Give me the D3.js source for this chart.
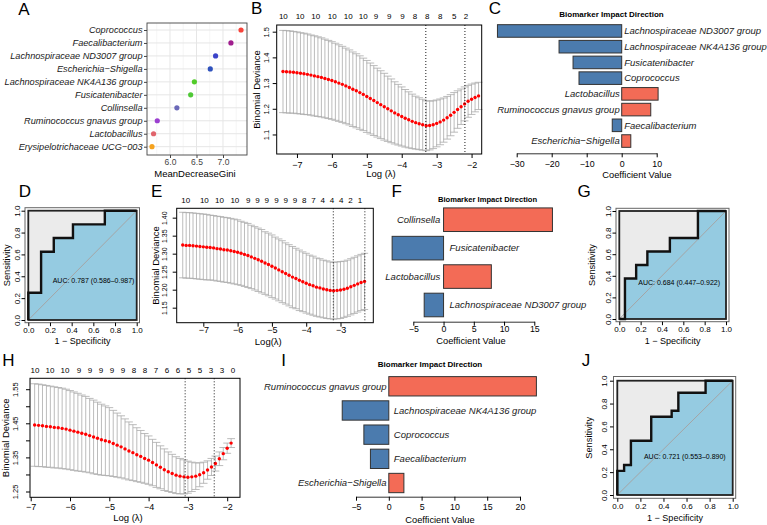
<!DOCTYPE html>
<html>
<head>
<meta charset="utf-8">
<script src="https://cdn.jsdelivr.net/npm/d3@7"></script>
<style>
body { margin: 0; background: #fff; }
svg { font-family: "Liberation Sans", Arial, Helvetica, sans-serif; }
</style>
</head>
<body>
<svg id="fig" width="767" height="525"></svg>
<script>
// ---- A: random forest importance ----
var giniGenera = ["Coprococcus", "Faecalibacterium", "Lachnospiraceae ND3007 group", "Escherichia\u2212Shigella",
    "Lachnospiraceae NK4A136 group", "Fusicatenibacter", "Collinsella", "Ruminococcus gnavus group",
    "Lactobacillus", "Erysipelotrichaceae UCG\u2212003"];
var giniValues = [7.34, 7.15, 6.86, 6.76, 6.46, 6.39, 6.13, 5.76, 5.69, 5.66];
var giniColors = ["#f8433a", "#a01e8e", "#3b43c9", "#2f52bd", "#52cc2a", "#4fc836", "#6b69b8", "#9b3fd0", "#e0646c", "#f5a21e"];
var giniTicks = [6.0, 6.5, 7.0];

// ---- B: lasso cv, model 1 ----
var cvB_logLambda = [-7.4, -7.3, -7.2, -7.1, -7.0, -6.9, -6.8, -6.7, -6.6, -6.5, -6.4, -6.3, -6.2, -6.1, -6.0, -5.9, -5.8, -5.7, -5.6, -5.5,
    -5.4, -5.3, -5.2, -5.1, -5.0, -4.9, -4.8, -4.7, -4.6, -4.5, -4.4, -4.3, -4.2, -4.1, -4.0, -3.9, -3.8, -3.7, -3.6, -3.5,
    -3.4, -3.3, -3.2, -3.1, -3.0, -2.9, -2.8, -2.7, -2.6, -2.5, -2.4, -2.3, -2.2, -2.1, -2.0, -1.9, -1.8];
var cvB_cvm = [1.345, 1.344, 1.343, 1.342, 1.340, 1.338, 1.336, 1.334, 1.331, 1.328, 1.325, 1.322, 1.318, 1.314, 1.310, 1.305, 1.300, 1.295, 1.289, 1.283,
    1.276, 1.270, 1.263, 1.256, 1.248, 1.240, 1.232, 1.224, 1.216, 1.208, 1.200, 1.192, 1.184, 1.177, 1.170, 1.163, 1.157, 1.151, 1.146, 1.142,
    1.138, 1.134, 1.135, 1.138, 1.143, 1.149, 1.156, 1.165, 1.175, 1.186, 1.197, 1.208, 1.219, 1.229, 1.237, 1.244, 1.250];
var cvB_cvsd = [.160, .160, .160, .159, .159, .158, .158, .157, .156, .156, .155, .154, .153, .152, .151, .150, .149, .148, .147, .146,
    .145, .144, .143, .141, .140, .138, .136, .134, .132, .130, .127, .124, .121, .118, .115, .112, .109, .106, .103, .101,
    .099, .097, .095, .093, .091, .089, .086, .083, .080, .077, .073, .069, .066, .062, .059, .056, .053];
var cvB_topAt = [-7.39, -6.91, -6.46, -5.99, -5.53, -5.10, -4.74, -4.36, -3.98, -3.62, -3.27, -2.90, -2.50, -2.16];
var cvB_topNz = ["10", "10", "10", "10", "10", "10", "9", "9", "9", "8", "8", "8", "5", "2"];
var cvB_lambdaLines = [-3.31, -2.19];

// ---- E: lasso cv, model 2 ----
var cvE_logLambda = [-7.6, -7.5, -7.4, -7.3, -7.2, -7.1, -7.0, -6.9, -6.8, -6.7, -6.6, -6.5, -6.4, -6.3, -6.2, -6.1, -6.0, -5.9, -5.8, -5.7,
    -5.6, -5.5, -5.4, -5.3, -5.2, -5.1, -5.0, -4.9, -4.8, -4.7, -4.6, -4.5, -4.4, -4.3, -4.2, -4.1, -4.0, -3.9, -3.8, -3.7,
    -3.6, -3.5, -3.4, -3.3, -3.2, -3.1, -3.0, -2.9, -2.8, -2.7, -2.6, -2.5, -2.4, -2.3];
var cvE_cvm = [1.324, 1.323, 1.323, 1.322, 1.321, 1.320, 1.319, 1.318, 1.317, 1.316, 1.314, 1.313, 1.311, 1.310, 1.308, 1.306, 1.304, 1.301, 1.298, 1.295,
    1.291, 1.287, 1.283, 1.279, 1.274, 1.270, 1.265, 1.260, 1.255, 1.250, 1.245, 1.240, 1.235, 1.231, 1.226, 1.222, 1.218, 1.214, 1.211, 1.207,
    1.205, 1.202, 1.200, 1.198, 1.197, 1.198, 1.199, 1.201, 1.204, 1.208, 1.212, 1.216, 1.220, 1.223];
var cvE_cvsd = [.091, .091, .091, .091, .091, .091, .091, .091, .090, .090, .090, .090, .090, .090, .090, .090, .090, .089, .089, .089,
    .088, .088, .088, .088, .087, .087, .087, .086, .086, .086, .085, .085, .085, .084, .084, .083, .083, .082, .082, .081,
    .081, .080, .080, .079, .079, .079, .079, .078, .078, .078, .078, .078, .078, .078];
var cvE_topAt = [-7.51, -6.97, -6.53, -6.08, -5.69, -5.42, -5.15, -4.87, -4.60, -4.33, -4.06, -3.79, -3.52, -3.25, -2.98, -2.71, -2.43];
var cvE_topNz = ["10", "10", "10", "10", "9", "9", "9", "9", "9", "9", "8", "7", "4", "4", "4", "2", "1"];
var cvE_lambdaLines = [-3.21, -2.29];

// ---- H: lasso cv, model 3 ----
var cvH_logLambda = [-6.9, -6.8, -6.7, -6.6, -6.5, -6.4, -6.3, -6.2, -6.1, -6.0, -5.9, -5.8, -5.7, -5.6, -5.5, -5.4, -5.3, -5.2, -5.1, -5.0,
    -4.9, -4.8, -4.7, -4.6, -4.5, -4.4, -4.3, -4.2, -4.1, -4.0, -3.9, -3.8, -3.7, -3.6, -3.5, -3.4, -3.3, -3.2, -3.1, -3.0,
    -2.9, -2.8, -2.7, -2.6, -2.5, -2.4, -2.3, -2.2, -2.1, -2.0, -1.9];
var cvH_cvm = [1.445, 1.444, 1.443, 1.441, 1.440, 1.438, 1.437, 1.435, 1.433, 1.430, 1.427, 1.424, 1.421, 1.418, 1.414, 1.410, 1.406, 1.402, 1.399, 1.396,
    1.391, 1.386, 1.381, 1.375, 1.369, 1.364, 1.358, 1.353, 1.347, 1.342, 1.335, 1.328, 1.321, 1.314, 1.308, 1.303, 1.298, 1.295, 1.293, 1.292,
    1.293, 1.295, 1.299, 1.305, 1.313, 1.322, 1.332, 1.346, 1.361, 1.377, 1.392];
var cvH_cvsd = [.121, .121, .120, .120, .119, .119, .118, .118, .117, .116, .115, .114, .112, .111, .109, .108, .106, .104, .102, .100,
    .097, .094, .091, .088, .085, .082, .079, .076, .073, .071, .068, .066, .063, .061, .058, .056, .054, .052, .050, .047,
    .043, .039, .035, .031, .027, .025, .022, .020, .018, .015, .013];
var cvH_topAt = [-6.89, -6.51, -6.13, -5.77, -5.49, -5.21, -4.93, -4.65, -4.37, -4.09, -3.81, -3.53, -3.25, -2.97, -2.69, -2.41, -2.13, -1.85];
var cvH_topNz = ["10", "10", "10", "9", "9", "9", "9", "9", "8", "8", "7", "6", "6", "5", "5", "3", "3", "0"];
var cvH_lambdaLines = [-3.07, -2.33];

// ---- C, F, I: coefficients ----
var coefC_names = ["Lachnospiraceae ND3007 group", "Lachnospiraceae NK4A136 group", "Fusicatenibacter", "Coprococcus",
    "Lactobacillus", "Ruminococcus gnavus group", "Faecalibacterium", "Escherichia\u2212Shigella"];
var coefC_values = [-35.5, -17.9, -13.9, -12.2, 10.4, 8.3, -2.7, 2.6];
var coefF_names = ["Collinsella", "Fusicatenibacter", "Lactobacillus", "Lachnospiraceae ND3007 group"];
var coefF_values = [18.0, -8.5, 7.9, -3.2];
var coefI_names = ["Ruminococcus gnavus group", "Lachnospiraceae NK4A136 group", "Coprococcus", "Faecalibacterium", "Escherichia\u2212Shigella"];
var coefI_values = [22.5, -7.1, -3.8, -2.8, 2.3];

// ---- D, G, J: ROC ----
var rocD_fpr = [0, 0, 0.118, 0.118, 0.235, 0.235, 0.412, 0.412, 0.706, 0.706, 1];
var rocD_tpr = [0, 0.25, 0.25, 0.625, 0.625, 0.75, 0.75, 0.875, 0.875, 1, 1];
var rocD_auc = "AUC: 0.787 (0.586\u20130.987)";
var rocG_fpr = [0, 0.053, 0.053, 0.158, 0.158, 0.263, 0.263, 0.474, 0.474, 0.737, 0.737, 1];
var rocG_tpr = [0, 0, 0.375, 0.375, 0.5, 0.5, 0.625, 0.625, 0.75, 0.75, 1, 1];
var rocG_auc = "AUC: 0.684 (0.447\u20130.922)";
var rocJ_fpr = [0, 0, 0.059, 0.059, 0.118, 0.118, 0.294, 0.294, 0.471, 0.471, 0.529, 0.529, 0.765, 0.765, 1];
var rocJ_tpr = [0, 0.211, 0.211, 0.263, 0.263, 0.474, 0.474, 0.684, 0.684, 0.737, 0.737, 0.895, 0.895, 1, 1];
var rocJ_auc = "AUC: 0.721 (0.553\u20130.890)";
var rocTicks = [0, 0.2, 0.4, 0.6, 0.8, 1.0];

var svg = d3.select("#fig");
svg.append("rect").attr("width", 767).attr("height", 525).attr("fill", "#fff");

function bottomAxis(g, scale, yPos, ticks, fmt, base, size, tickLen, keepDomain) {
    var ax = g.append("g").attr("transform", "translate(0," + yPos + ")")
        .call(d3.axisBottom(scale).tickValues(ticks).tickFormat(fmt).tickSize(tickLen).tickSizeOuter(0));
    if (!keepDomain) ax.select(".domain").remove();
    ax.attr("font-family", null).attr("font-size", size);
    ax.selectAll(".tick line").attr("stroke", "#000");
    ax.selectAll(".domain").attr("stroke", "#000");
    ax.selectAll("text").attr("y", base - yPos).attr("dy", null).attr("fill", "#000");
    return ax;
}

function leftAxisRot(g, scale, xPos, ticks, fmt, base, size, tickLen) {
    var ax = g.append("g").attr("transform", "translate(" + xPos + ",0)")
        .call(d3.axisLeft(scale).tickValues(ticks).tickFormat(fmt).tickSize(tickLen).tickSizeOuter(0));
    ax.select(".domain").remove();
    ax.attr("font-family", null).attr("font-size", size);
    ax.selectAll(".tick line").attr("stroke", "#000");
    ax.selectAll("text").attr("x", 0).attr("y", base - xPos).attr("dy", null)
        .attr("text-anchor", "middle").attr("transform", "rotate(-90)").attr("fill", "#000");
    return ax;
}

function rotTitle(g, text, xBase, yMid, size) {
    g.append("text").attr("transform", "translate(" + xBase + "," + yMid + ") rotate(-90)")
        .attr("text-anchor", "middle").attr("font-size", size).text(text);
}

function drawGini() {
    var L = 147, R = 247, T = 23, B = 155;
    var g = svg.append("g");
    var x = d3.scaleLinear().domain([5.566, 7.453]).range([L, R]);
    var y = d3.scalePoint().domain(giniGenera).range([30, 146.7]);

    g.selectAll(".vmin").data([5.75, 6.25, 6.75, 7.25]).enter().append("line").attr("class", "vmin")
        .attr("x1", x).attr("x2", x).attr("y1", T).attr("y2", B)
        .attr("stroke", "#f0f0f0").attr("stroke-width", 0.6);
    g.selectAll(".vmaj").data(giniTicks).enter().append("line").attr("class", "vmaj")
        .attr("x1", x).attr("x2", x).attr("y1", T).attr("y2", B)
        .attr("stroke", "#e6e6e6").attr("stroke-width", 1);
    g.selectAll(".hmaj").data(giniGenera).enter().append("line").attr("class", "hmaj")
        .attr("x1", L).attr("x2", R).attr("y1", y).attr("y2", y)
        .attr("stroke", "#e6e6e6").attr("stroke-width", 1);

    g.selectAll(".pt").data(giniGenera).enter().append("circle").attr("class", "pt")
        .attr("cx", function (d, i) { return x(giniValues[i]); })
        .attr("cy", y)
        .attr("r", 2.6)
        .attr("fill", function (d, i) { return giniColors[i]; });

    g.append("rect").attr("x", L).attr("y", T).attr("width", R - L).attr("height", B - T)
        .attr("fill", "none").attr("stroke", "#444").attr("stroke-width", 0.9);

    var ax = bottomAxis(g, x, B, giniTicks, d3.format(".1f"), 165, 8.5, 3, false);
    ax.selectAll("text").attr("fill", "#444");
    ax.selectAll(".tick line").attr("stroke", "#444");

    var ay = g.append("g").attr("transform", "translate(" + L + ",0)")
        .call(d3.axisLeft(y).tickSize(3).tickSizeOuter(0));
    ay.select(".domain").remove();
    ay.attr("font-family", null).attr("font-size", 9.2);
    ay.selectAll(".tick line").attr("stroke", "#444");
    ay.selectAll("text").attr("x", -4.5).attr("fill", "#1a1a1a").attr("font-style", "italic");

    g.append("text").attr("x", 195).attr("y", 176.5).attr("text-anchor", "middle")
        .attr("font-size", 9.5).text("MeanDecreaseGini");
}

function drawCV(p) {
    var g = svg.append("g");
    var x = d3.scaleLinear().domain(p.xDomain).range([p.left, p.right]);
    var y = d3.scaleLinear().domain(p.yDomain).range([p.bottom, p.top]);
    var pts = p.lam.map(function (l, i) { return { l: l, m: p.cvm[i], s: p.cvsd[i] }; });
    var barw = (d3.max(p.lam) - d3.min(p.lam)) * 0.02;

    var eb = g.append("g").attr("stroke", "#ababab").attr("stroke-width", 0.8);
    eb.selectAll(".v").data(pts).enter().append("line").attr("class", "v")
        .attr("x1", function (d) { return x(d.l); }).attr("x2", function (d) { return x(d.l); })
        .attr("y1", function (d) { return y(d.m + d.s); }).attr("y2", function (d) { return y(d.m - d.s); });
    eb.selectAll(".u").data(pts).enter().append("line").attr("class", "u")
        .attr("x1", function (d) { return x(d.l - barw); }).attr("x2", function (d) { return x(d.l + barw); })
        .attr("y1", function (d) { return y(d.m + d.s); }).attr("y2", function (d) { return y(d.m + d.s); });
    eb.selectAll(".w").data(pts).enter().append("line").attr("class", "w")
        .attr("x1", function (d) { return x(d.l - barw); }).attr("x2", function (d) { return x(d.l + barw); })
        .attr("y1", function (d) { return y(d.m - d.s); }).attr("y2", function (d) { return y(d.m - d.s); });

    g.selectAll(".pt").data(pts).enter().append("circle").attr("class", "pt")
        .attr("cx", function (d) { return x(d.l); })
        .attr("cy", function (d) { return y(d.m); })
        .attr("r", 1.7).attr("fill", "#ff0000");

    g.selectAll(".vl").data(p.vlines).enter().append("line").attr("class", "vl")
        .attr("x1", x).attr("x2", x).attr("y1", p.top).attr("y2", p.bottom)
        .attr("stroke", "#000").attr("stroke-width", 0.9).attr("stroke-dasharray", "1,2");

    g.append("rect").attr("x", p.left).attr("y", p.top).attr("width", p.right - p.left).attr("height", p.bottom - p.top)
        .attr("fill", "none").attr("stroke", "#000").attr("stroke-width", 1);

    bottomAxis(g, x, p.bottom, p.xTicks, d3.format("d"), p.xLabBase, 9, 4, false);
    leftAxisRot(g, y, p.left, p.yTicks, p.yFmt, p.yLabBase, p.ySize, 4);

    g.append("text").attr("x", p.xTitle[0]).attr("y", p.xTitle[1]).attr("text-anchor", "middle")
        .attr("font-size", 9.5).text(p.xTitleText);
    rotTitle(g, "Binomial Deviance", p.yTitleBase, (p.top + p.bottom) / 2, 9.5);

    g.selectAll(".top").data(p.topAt).enter().append("text").attr("class", "top")
        .attr("x", x).attr("y", p.topBase).attr("text-anchor", "middle").attr("font-size", 8)
        .text(function (d, i) { return p.topNz[i]; });
}

function drawCoef(p) {
    var g = svg.append("g");
    var x = d3.scaleLinear().domain(p.xDomain).range(p.xRange);
    var y = d3.scaleBand().domain(p.names).range(p.band).paddingInner(p.pad).paddingOuter(p.pad / 2);

    g.selectAll(".bar").data(p.names).enter().append("rect").attr("class", "bar")
        .attr("x", function (d, i) { return x(Math.min(0, p.values[i])); })
        .attr("width", function (d, i) { return Math.abs(x(p.values[i]) - x(0)); })
        .attr("y", y).attr("height", y.bandwidth())
        .attr("fill", function (d, i) { return p.values[i] < 0 ? "#4b7bae" : "#f36b56"; })
        .attr("stroke", "#333").attr("stroke-width", 1);

    g.selectAll(".lab").data(p.names).enter().append("text").attr("class", "lab")
        .attr("x", function (d, i) { return p.values[i] < 0 ? x(0) + p.gapNeg : x(0) - p.gapPos; })
        .attr("y", function (d) { return y(d) + y.bandwidth() / 2; })
        .attr("dy", "0.35em")
        .attr("text-anchor", function (d, i) { return p.values[i] < 0 ? "start" : "end"; })
        .attr("font-size", 9.5).attr("font-style", "italic").attr("fill", "#1a1a1a")
        .text(function (d) { return d; });

    var ax = bottomAxis(g, x, p.axisY, p.ticks, d3.format("d"), p.tickLabBase, 8.8, 4, true);
    ax.selectAll(".domain").attr("stroke", "#333").attr("stroke-width", 1);

    g.append("text").attr("x", p.title[0]).attr("y", p.title[1]).attr("text-anchor", "middle")
        .attr("font-size", p.titleSize).attr("font-weight", "bold").text("Biomarker Impact Direction");
    g.append("text").attr("x", p.xTitle[0]).attr("y", p.xTitle[1]).attr("text-anchor", "middle")
        .attr("font-size", 9.3).text("Coefficient Value");
}

function drawROC(p) {
    var g = svg.append("g");
    var x = d3.scaleLinear().domain([0, 1]).range([p.inner.l, p.inner.r]);
    var y = d3.scaleLinear().domain([0, 1]).range([p.inner.b, p.inner.t]);
    var pts = p.fpr.map(function (f, i) { return [f, p.tpr[i]]; });

    g.append("rect").attr("x", p.outer.l).attr("y", p.outer.t)
        .attr("width", p.outer.r - p.outer.l).attr("height", p.outer.b - p.outer.t)
        .attr("fill", "none").attr("stroke", "#666").attr("stroke-width", 1);
    g.append("rect").attr("x", x(0)).attr("y", y(1)).attr("width", x(1) - x(0)).attr("height", y(0) - y(1))
        .attr("fill", "#ebebeb");
    g.append("path").datum(pts)
        .attr("d", d3.area().x(function (d) { return x(d[0]); }).y0(y(0)).y1(function (d) { return y(d[1]); }))
        .attr("fill", "#95cbe1");
    g.append("line").attr("x1", x(0)).attr("y1", y(0)).attr("x2", x(1)).attr("y2", y(1))
        .attr("stroke", "#a5a5a5").attr("stroke-width", 1);
    g.append("rect").attr("x", x(0)).attr("y", y(1)).attr("width", x(1) - x(0)).attr("height", y(0) - y(1))
        .attr("fill", "none").attr("stroke", "#222").attr("stroke-width", 1.8);
    g.append("path").datum(pts)
        .attr("d", d3.line().x(function (d) { return x(d[0]); }).y(function (d) { return y(d[1]); }))
        .attr("fill", "none").attr("stroke", "#111").attr("stroke-width", 2.4);

    bottomAxis(g, x, p.outer.b, rocTicks, d3.format(".1f"), p.xLabBase, 8, 3.5, false);
    leftAxisRot(g, y, p.outer.l, rocTicks, d3.format(".1f"), p.yLabBase, 8, 3.5);

    g.append("text").attr("x", (p.inner.l + p.inner.r) / 2).attr("y", p.xTitleBase).attr("text-anchor", "middle")
        .attr("font-size", 9).text("1 \u2212 Specificity");
    rotTitle(g, "Sensitivity", p.yTitleBase, (p.inner.t + p.inner.b) / 2, 9.3);

    g.append("text").attr("x", x(p.aucAt[0])).attr("y", y(p.aucAt[1])).attr("font-size", 7)
        .text(p.auc);
}

drawGini();

drawCV({
    left: 276.7, right: 481.7, top: 25, bottom: 154,
    xDomain: [-7.58, -1.71], yDomain: [1.024, 1.526],
    lam: cvB_logLambda, cvm: cvB_cvm, cvsd: cvB_cvsd, vlines: cvB_lambdaLines,
    topAt: cvB_topAt, topNz: cvB_topNz, topBase: 18.5,
    xTicks: [-7, -6, -5, -4, -3, -2], xLabBase: 167.5,
    yTicks: [1.1, 1.2, 1.3, 1.4, 1.5], yFmt: d3.format(".1f"), yLabBase: 269.4, ySize: 7.5,
    xTitle: [381, 177], xTitleText: "Log (\u03bb)", yTitleBase: 259.5
});

drawCV({
    left: 176.7, right: 373.3, top: 208.3, bottom: 322.7,
    xDomain: [-7.776, -2.044], yDomain: [1.1083, 1.426],
    lam: cvE_logLambda, cvm: cvE_cvm, cvsd: cvE_cvsd, vlines: cvE_lambdaLines,
    topAt: cvE_topAt, topNz: cvE_topNz, topBase: 203,
    xTicks: [-7, -6, -5, -4, -3], xLabBase: 333.5,
    yTicks: [1.15, 1.20, 1.25, 1.30, 1.35, 1.40], yFmt: d3.format(".2f"), yLabBase: 166.5, ySize: 7,
    xTitle: [268.3, 345], xTitleText: "Log(\u03bb)", yTitleBase: 158.5
});

drawCV({
    left: 30, right: 240, top: 378.3, bottom: 497.3,
    xDomain: [-7.018, -1.674], yDomain: [1.233, 1.582],
    lam: cvH_logLambda, cvm: cvH_cvm, cvsd: cvH_cvsd, vlines: cvH_lambdaLines,
    topAt: cvH_topAt, topNz: cvH_topNz, topBase: 372.5,
    xTicks: [-7, -6, -5, -4, -3, -2], xLabBase: 510.5,
    yTicks: [1.25, 1.30, 1.35, 1.40, 1.45, 1.50, 1.55],
    yFmt: function (d) { return [1.25, 1.35, 1.45, 1.55].indexOf(+d.toFixed(2)) >= 0 ? d.toFixed(2) : ""; },
    yLabBase: 18, ySize: 7.5,
    xTitle: [128, 520.5], xTitleText: "Log (\u03bb)", yTitleBase: 8.5
});

drawCoef({
    names: coefC_names, values: coefC_values,
    xDomain: [-30, 10], xRange: [516.7, 656.7], ticks: [-30, -20, -10, 0, 10],
    band: [23.1, 148.9], pad: 0.2, axisY: 153.3, tickLabBase: 167,
    title: [611.5, 16.5], titleSize: 8, xTitle: [637, 178], gapPos: 2, gapNeg: 2.5
});

drawCoef({
    names: coefF_names, values: coefF_values,
    xDomain: [-5, 15], xRange: [413.3, 534.3], ticks: [-5, 0, 5, 10, 15],
    band: [205.5, 319.2], pad: 0.17, axisY: 321.7, tickLabBase: 332.5,
    title: [487.5, 201.5], titleSize: 7.6, xTitle: [471, 343.5], gapPos: 3.3, gapNeg: 6
});

drawCoef({
    names: coefI_names, values: coefI_values,
    xDomain: [-5, 20], xRange: [356, 520], ticks: [-5, 0, 5, 10, 15, 20],
    band: [374.2, 495.1], pad: 0.2, axisY: 496.7, tickLabBase: 510,
    title: [430, 367], titleSize: 8, xTitle: [440, 522.5], gapPos: 2.3, gapNeg: 5
});

drawROC({
    fpr: rocD_fpr, tpr: rocD_tpr, auc: rocD_auc, aucAt: [0.225, 0.339],
    inner: { l: 28.3, r: 136.7, t: 210.7, b: 320 }, outer: { l: 25, r: 139.5, t: 207.7, b: 322.7 },
    xLabBase: 333.5, xTitleBase: 344, yLabBase: 20, yTitleBase: 9.5
});

drawROC({
    fpr: rocG_fpr, tpr: rocG_tpr, auc: rocG_auc, aucAt: [0.178, 0.315],
    inner: { l: 619.3, r: 726, t: 211, b: 319 }, outer: { l: 616, r: 729, t: 208.3, b: 321.7 },
    xLabBase: 332.5, xTitleBase: 343.5, yLabBase: 611, yTitleBase: 595
});

drawROC({
    fpr: rocJ_fpr, tpr: rocJ_tpr, auc: rocJ_auc, aucAt: [0.231, 0.315],
    inner: { l: 617.3, r: 732.7, t: 380.7, b: 495 }, outer: { l: 613.5, r: 735.7, t: 376.5, b: 498.3 },
    xLabBase: 509, xTitleBase: 521, yLabBase: 607, yTitleBase: 591.5
});

// panel letters
var panelLetters = ["A", "B", "C", "D", "E", "F", "G", "H", "I", "J"];
var letterPos = [[24, 15], [256.7, 13.5], [495, 13.5], [25, 197], [156.7, 197], [396.7, 197], [584, 197], [8.3, 366], [283.7, 366], [586, 366]];
svg.selectAll(".plab").data(panelLetters).enter().append("text").attr("class", "plab")
    .attr("x", function (d, i) { return letterPos[i][0]; })
    .attr("y", function (d, i) { return letterPos[i][1]; })
    .attr("text-anchor", "middle").attr("font-size", 17)
    .text(function (d) { return d; });
</script>
</body>
</html>
